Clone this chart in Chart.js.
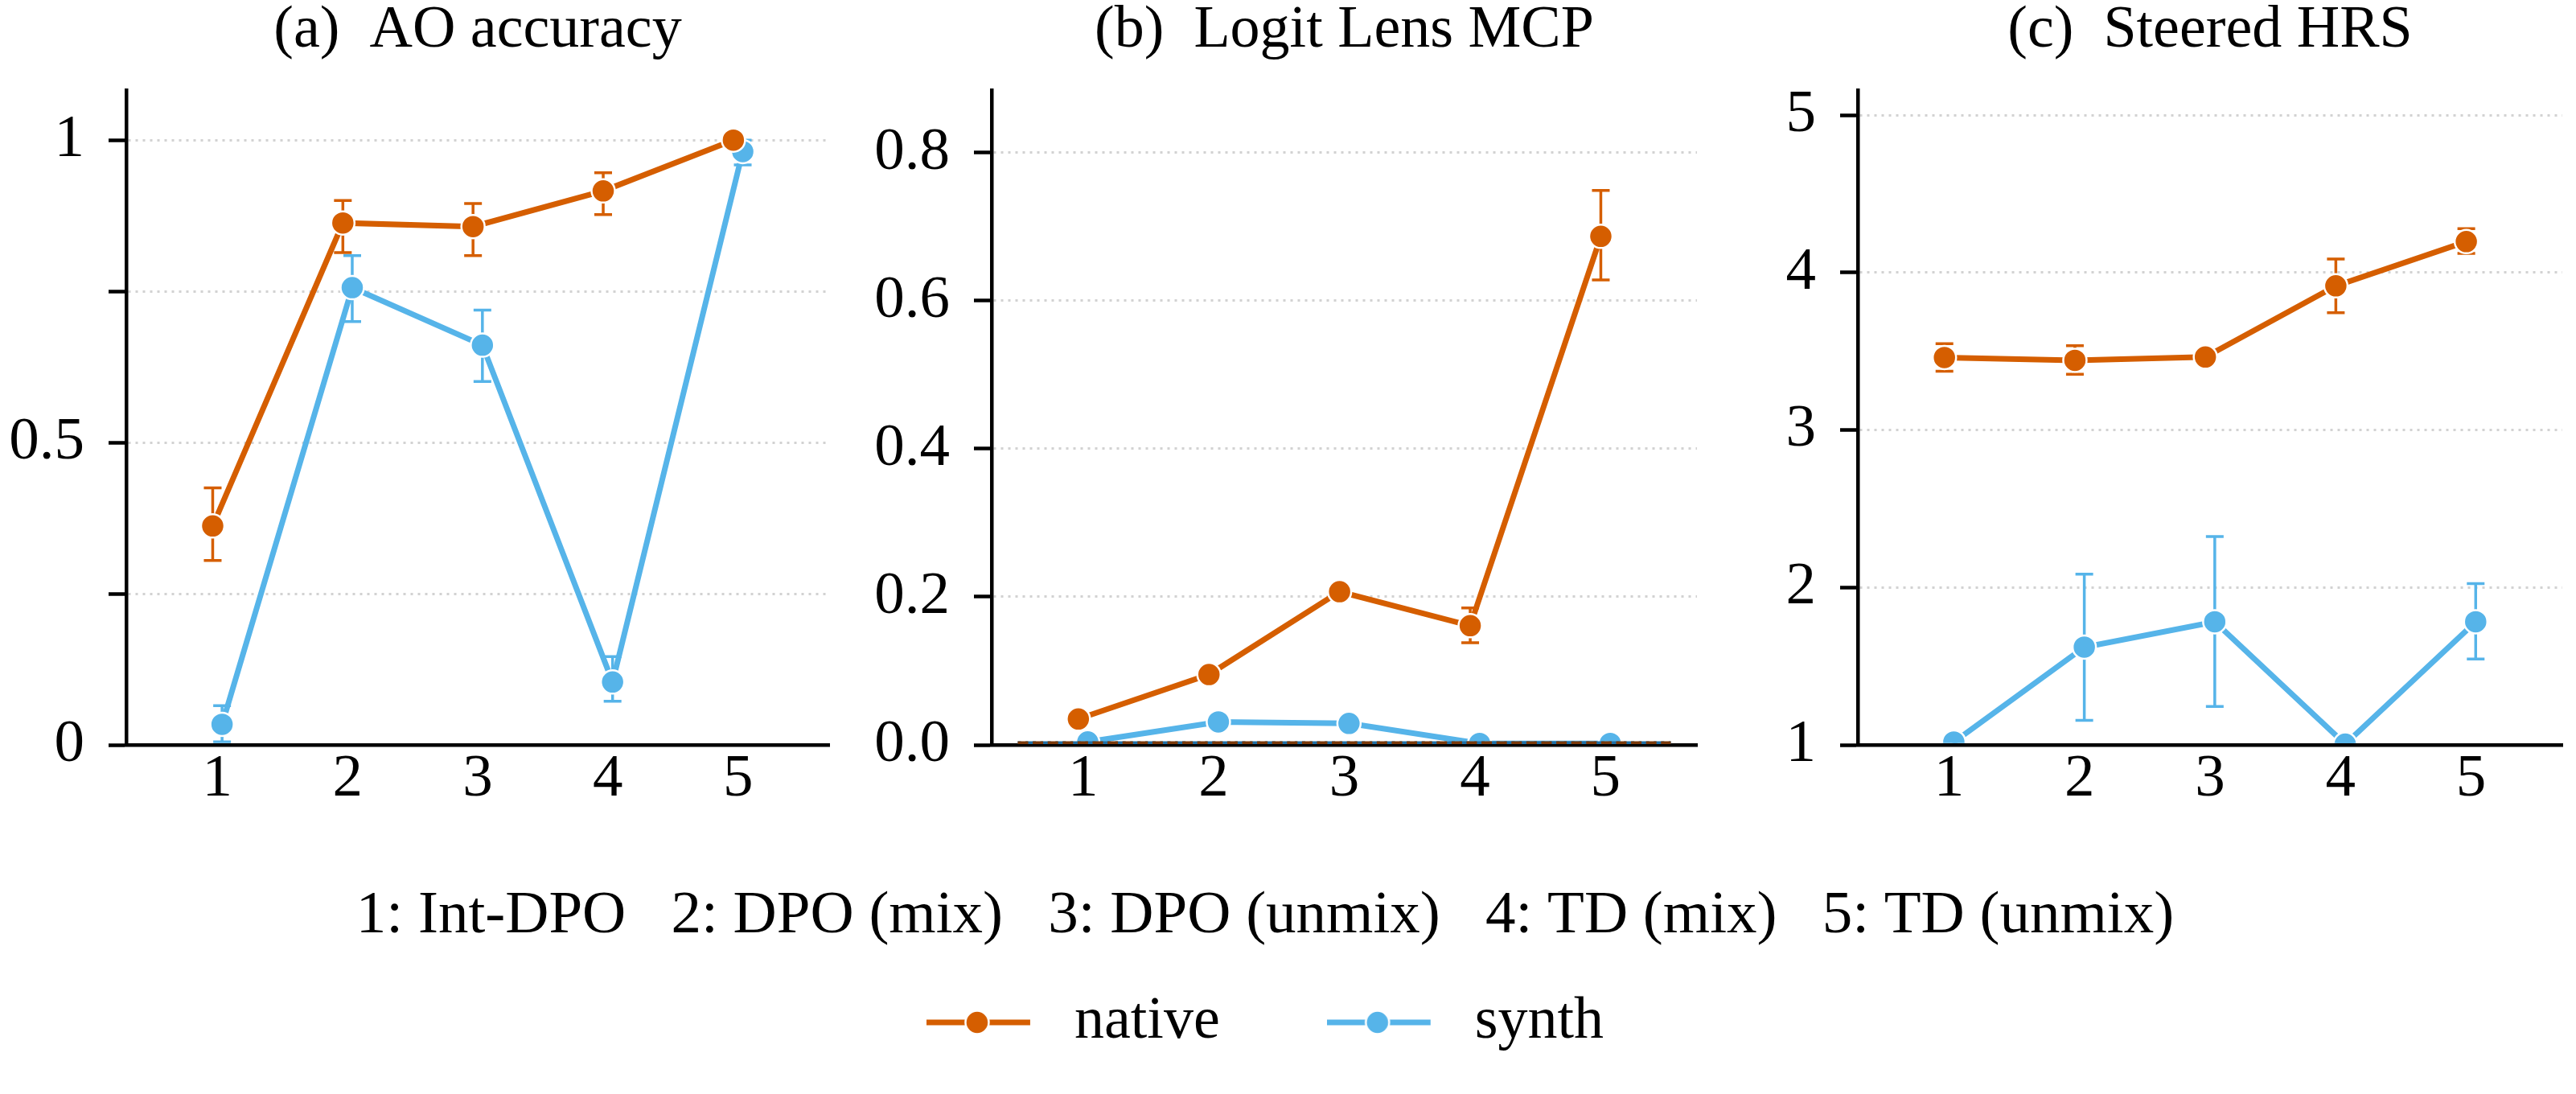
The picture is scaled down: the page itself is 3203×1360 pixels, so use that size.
<!DOCTYPE html>
<html>
<head>
<meta charset="utf-8">
<script src="https://cdn.jsdelivr.net/npm/chart.js@4.4.1/dist/chart.umd.min.js"></script>
<style>
html,body{margin:0;padding:0;background:#fff;}
body{width:3203px;height:1360px;position:relative;overflow:hidden;}
canvas{position:absolute;}
</style>
</head>
<body>
<canvas id="pa"></canvas>
<canvas id="pb"></canvas>
<canvas id="pc"></canvas>
<canvas id="leg"></canvas>
<script>
// ---------------- data ----------------
const CATEGORIES = [1, 2, 3, 4, 5];
const X_TICKS = [1, 2, 3, 4, 5];
const X_TICK_LABELS = ['1', '2', '3', '4', '5'];
const CATEGORY_NAMES = ['Int-DPO', 'DPO (mix)', 'DPO (unmix)', 'TD (mix)', 'TD (unmix)'];
const SERIES_NAMES = ['native', 'synth'];
const PANEL_TITLES = ['(a)  AO accuracy', '(b)  Logit Lens MCP', '(c)  Steered HRS'];

// (a) AO accuracy
const A_NATIVE    = [0.362, 0.863, 0.857, 0.916, 1.000];
const A_NATIVE_LO = [0.305, 0.814, 0.809, 0.877, 1.000];
const A_NATIVE_HI = [0.425, 0.900, 0.895, 0.946, 1.000];
const A_SYNTH     = [0.034, 0.756, 0.661, 0.104, 0.981];
const A_SYNTH_LO  = [0.005, 0.700, 0.601, 0.072, 0.959];
const A_SYNTH_HI  = [0.065, 0.809, 0.719, 0.146, 1.000];
const A_Y_TICKS = [0, 0.25, 0.5, 0.75, 1];
const A_Y_LABELS = ['0', '', '0.5', '', '1'];
const A_Y_RANGE = [0, 1.082];

// (b) Logit Lens MCP
const B_NATIVE    = [0.035, 0.095, 0.207, 0.161, 0.687];
const B_NATIVE_LO = [0.029, 0.088, 0.199, 0.138, 0.628];
const B_NATIVE_HI = [0.041, 0.102, 0.215, 0.185, 0.749];
const B_SYNTH     = [0.004, 0.031, 0.029, 0.002, 0.002];
const B_SYNTH_LO  = [0.001, 0.026, 0.024, 0.000, 0.000];
const B_SYNTH_HI  = [0.007, 0.036, 0.034, 0.004, 0.004];
const B_CHANCE_X = [0.5, 5.5];
const B_CHANCE_NATIVE = [0.003, 0.003];
const B_CHANCE_SYNTH = [0.003, 0.003];
const B_Y_TICKS = [0, 0.2, 0.4, 0.6, 0.8];
const B_Y_LABELS = ['0.0', '0.2', '0.4', '0.6', '0.8'];
const B_Y_RANGE = [0, 0.884];

// (c) Steered HRS
const C_NATIVE    = [3.461, 3.443, 3.464, 3.916, 4.197];
const C_NATIVE_LO = [3.373, 3.354, 3.440, 3.745, 4.122];
const C_NATIVE_HI = [3.549, 3.536, 3.488, 4.087, 4.279];
const C_SYNTH     = [1.018, 1.621, 1.782, 1.005, 1.782];
const C_SYNTH_LO  = [1.000, 1.156, 1.244, 1.000, 1.546];
const C_SYNTH_HI  = [1.036, 2.084, 2.323, 1.010, 2.025];
const C_Y_TICKS = [1, 2, 3, 4, 5];
const C_Y_LABELS = ['1', '2', '3', '4', '5'];
const C_Y_RANGE = [1, 5.157];

const X_RANGE = [0.3, 5.7];

// ---------------- style ----------------
const FONT = "'Liberation Serif', 'DejaVu Serif', 'Times New Roman', serif";
const ORANGE = '#D55E00';
const BLUE = '#56B4E9';
const CHANCE_ORANGE = '#7a390a';
const CHANCE_BLUE = '#1f6ea3';
const GRID_COLOR = '#d2d2d2';
const DODGE = 0.036;
const PANEL_H = 1020;
const CHART_BOTTOM = 926;
const Y_AXIS_W = 150;
const CAP = 11;
const ERR_W = 3.5;
const TICK_SIZE = 75;
const PANELS = [
  {id: 'pa', left: 7,    w: 1041, padR: 10},
  {id: 'pb', left: 1083, w: 1044, padR: 10},
  {id: 'pc', left: 2160, w: 1043, padR: 8}
];

const errorBars = {
  id: 'errorBars',
  beforeDatasetDraw(chart, args) {
    const ds = chart.data.datasets[args.index];
    if (!ds.errLo) return;
    const {ctx, chartArea} = chart;
    const xs = chart.scales.x, ys = chart.scales.y;
    ctx.save();
    ctx.beginPath();
    ctx.rect(chartArea.left, chartArea.top - 40, chartArea.right - chartArea.left, chartArea.bottom - 2.3 - chartArea.top + 40);
    ctx.clip();
    ctx.strokeStyle = ds.borderColor;
    ctx.lineWidth = ERR_W;
    ctx.lineCap = 'butt';
    ds.data.forEach((p, i) => {
      const px = xs.getPixelForValue(p.x);
      const lo = ys.getPixelForValue(ds.errLo[i]);
      const hi = ys.getPixelForValue(ds.errHi[i]);
      ctx.beginPath();
      ctx.moveTo(px, lo); ctx.lineTo(px, hi);
      ctx.moveTo(px - CAP, lo); ctx.lineTo(px + CAP, lo);
      ctx.moveTo(px - CAP, hi); ctx.lineTo(px + CAP, hi);
      ctx.stroke();
    });
    ctx.restore();
  }
};

function seriesDataset(name, vals, lo, hi, color, dodge, order) {
  return {
    label: name,
    data: CATEGORIES.map((c, i) => ({x: c + dodge, y: vals[i]})),
    errLo: lo, errHi: hi,
    borderColor: color, backgroundColor: color,
    borderWidth: 7,
    pointRadius: 14.5, pointHoverRadius: 14.5,
    pointBackgroundColor: color, pointBorderColor: '#ffffff', pointBorderWidth: 2.5,
    tension: 0,
    clip: {left: 40, right: 40, top: 40, bottom: -2.3},
    order: order
  };
}

function chanceDataset(name, xs, ys, color, dashOffset, order) {
  return {
    label: name,
    data: xs.map((x, i) => ({x: x, y: ys[i]})),
    borderColor: color, backgroundColor: color,
    borderWidth: 3.5, borderDash: [13, 5.6], borderDashOffset: dashOffset,
    pointRadius: 0, pointHoverRadius: 0,
    clip: false, order: order
  };
}

function makePanel(p, title, yRange, yTicks, yLabels, datasets) {
  const cv = document.getElementById(p.id);
  cv.width = p.w; cv.height = PANEL_H;
  cv.style.left = p.left + 'px'; cv.style.top = '0px';
  cv.style.width = p.w + 'px'; cv.style.height = PANEL_H + 'px';
  return new Chart(cv, {
    type: 'line',
    data: {datasets: datasets},
    plugins: [errorBars],
    options: {
      responsive: false, animation: false, devicePixelRatio: 1, events: [],
      layout: {padding: {left: 0, right: p.padR, top: 0, bottom: 0}},
      plugins: {
        legend: {display: false},
        tooltip: {enabled: false},
        title: {
          display: true, fullSize: false, text: title, color: '#000',
          font: {family: FONT, size: 74, weight: 'normal', lineHeight: 1},
          padding: {top: 2, bottom: 36.5}
        }
      },
      scales: {
        x: {
          type: 'linear', position: 'bottom', min: X_RANGE[0], max: X_RANGE[1],
          afterBuildTicks: s => { s.ticks = X_TICKS.map(v => ({value: v})); },
          afterFit: s => { s.height = PANEL_H - CHART_BOTTOM; },
          grid: {display: false, drawTicks: false},
          border: {display: true, color: '#000', width: 4.5},
          ticks: {
            autoSkip: false, maxRotation: 0, minRotation: 0, padding: -2, color: '#000',
            font: {family: FONT, size: TICK_SIZE, weight: 'normal'},
            callback: (v, i) => X_TICK_LABELS[i]
          }
        },
        y: {
          type: 'linear', position: 'left', min: yRange[0], max: yRange[1],
          afterBuildTicks: s => { s.ticks = yTicks.map(v => ({value: v})); },
          afterFit: s => { s.width = Y_AXIS_W; },
          grid: {
            color: c => (c.tick && c.tick.value === yRange[0]) ? 'rgba(0,0,0,0)' : GRID_COLOR,
            lineWidth: 3, drawTicks: true, tickLength: 22, tickWidth: 4.5, tickColor: '#000'
          },
          border: {display: true, color: '#000', width: 4.5, dash: [3, 6]},
          ticks: {
            padding: 30, color: '#000',
            font: {family: FONT, size: TICK_SIZE, weight: 'normal'},
            callback: (v, i) => yLabels[i]
          }
        }
      }
    }
  });
}

function handleImage(color) {
  const c = document.createElement('canvas');
  c.width = 147; c.height = 40;
  const g = c.getContext('2d');
  g.strokeStyle = color; g.lineWidth = 7;
  g.beginPath(); g.moveTo(0, 20); g.lineTo(129, 20); g.stroke();
  g.fillStyle = '#ffffff';
  g.beginPath(); g.arc(63, 20, 15.75, 0, 2 * Math.PI); g.fill();
  g.fillStyle = color;
  g.beginPath(); g.arc(63, 20, 13.25, 0, 2 * Math.PI); g.fill();
  return c;
}

function init() {
  makePanel(PANELS[0], PANEL_TITLES[0], A_Y_RANGE, A_Y_TICKS, A_Y_LABELS, [
    seriesDataset(SERIES_NAMES[0], A_NATIVE, A_NATIVE_LO, A_NATIVE_HI, ORANGE, -DODGE, 0),
    seriesDataset(SERIES_NAMES[1], A_SYNTH, A_SYNTH_LO, A_SYNTH_HI, BLUE, DODGE, 1)
  ]);
  makePanel(PANELS[1], PANEL_TITLES[1], B_Y_RANGE, B_Y_TICKS, B_Y_LABELS, [
    seriesDataset(SERIES_NAMES[0], B_NATIVE, B_NATIVE_LO, B_NATIVE_HI, ORANGE, -DODGE, 0),
    seriesDataset(SERIES_NAMES[1], B_SYNTH, B_SYNTH_LO, B_SYNTH_HI, BLUE, DODGE, 1),
    chanceDataset('native chance', B_CHANCE_X, B_CHANCE_NATIVE, CHANCE_ORANGE, 0, -2),
    chanceDataset('synth chance', B_CHANCE_X, B_CHANCE_SYNTH, CHANCE_BLUE, 9, -1)
  ]);
  makePanel(PANELS[2], PANEL_TITLES[2], C_Y_RANGE, C_Y_TICKS, C_Y_LABELS, [
    seriesDataset(SERIES_NAMES[0], C_NATIVE, C_NATIVE_LO, C_NATIVE_HI, ORANGE, -DODGE, 0),
    seriesDataset(SERIES_NAMES[1], C_SYNTH, C_SYNTH_LO, C_SYNTH_HI, BLUE, DODGE, 1)
  ]);

  // caption + legend
  const caption = CATEGORY_NAMES.map((n, i) => (i + 1) + ': ' + n).join('   ');
  const colors = [ORANGE, BLUE];
  const handles = colors.map(handleImage);
  const lc = document.getElementById('leg');
  lc.width = 3146; lc.height = 500;
  lc.style.left = '0px'; lc.style.top = '1000px';
  lc.style.width = '3146px'; lc.style.height = '500px';
  new Chart(lc, {
    type: 'line',
    data: {datasets: SERIES_NAMES.map((n, i) => ({label: n, data: [], borderColor: colors[i]}))},
    options: {
      responsive: false, animation: false, devicePixelRatio: 1, events: [],
      layout: {padding: 0},
      scales: {x: {type: 'linear', display: false}, y: {display: false}},
      plugins: {
        tooltip: {enabled: false},
        title: {
          display: true, text: caption, color: '#000',
          font: {family: FONT, size: 75, weight: 'normal', lineHeight: 1},
          padding: {top: 101.5, bottom: -75.5}
        },
        legend: {
          display: true, position: 'top', align: 'center',
          labels: {
            usePointStyle: true, pointStyleWidth: 147, boxHeight: 74, padding: 133,
            color: '#000', font: {family: FONT, size: 74, weight: 'normal'},
            generateLabels: () => SERIES_NAMES.map((n, i) => ({
              text: n, pointStyle: handles[i], fillStyle: colors[i], strokeStyle: colors[i],
              lineWidth: 0, hidden: false, datasetIndex: i, fontColor: '#000'
            }))
          }
        }
      }
    }
  });
}

if (document.fonts && document.fonts.load) {
  Promise.all([
    document.fonts.load('74px "Liberation Serif"'),
    document.fonts.load('74px "DejaVu Serif"')
  ]).then(init, init);
} else {
  init();
}
</script>
</body>
</html>
